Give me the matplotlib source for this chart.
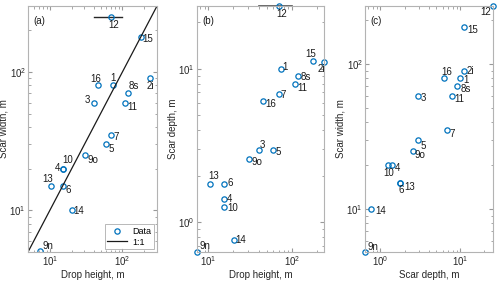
import matplotlib
matplotlib.use("Agg")
import matplotlib.pyplot as plt
import numpy as np

plt.rcParams['font.family'] = ['Liberation Sans', 'DejaVu Sans']
plt.rcParams['mathtext.fontset'] = 'custom'
plt.rcParams['mathtext.rm'] = 'Liberation Sans'
plt.rcParams['mathtext.it'] = 'Liberation Sans'

labels = ['1', '2i', '3', '4', '5', '6', '7', '8s', '9n', '9o', '10', '11', '12', '13', '14', '15', '16']
drop_height = [75, 244, 40.5, 15.3, 59.5, 15.3, 69.5, 118, 7.3, 30.7, 15.3, 110, 70, 10.4, 20.3, 178, 45.5]
scar_width = [80, 90, 60, 20, 30, 15, 35, 70, 5.05, 25, 20, 60, 251, 15, 10, 180, 80]
scar_depth = [10, 11.1, 2.94, 1.41, 2.97, 1.78, 6.8, 9.0, 0.64, 2.58, 1.25, 7.9, 25.6, 1.78, 0.77, 11.2, 6.2]
err12_drop = [41, 100]
one_to_one = [5, 300]

blue = '#0072BD'
fs = 7

# label offsets (pixels, label centre relative to point; y positive = down)
off_a = {'12': (3, 8), '15': (7, 2), '16': (-2, -6), '1': (0, -7), '2i': (0, 8),
         '8s': (6, -7), '3': (-7, -3), '11': (7, 4), '7': (5, 2), '5': (5, 5),
         '9o': (8, 5), '4': (-6, -1), '10': (4, -9), '13': (-3, -7), '6': (5, 4),
         '14': (7, 1), '9n': (8, -5)}
off_b = {'12': (3, 8), '15': (-2, -7), '2i': (-3, 7), '1': (4, -2), '8s': (8, 1),
         '11': (7, 4), '7': (5, 1), '16': (8, 3), '3': (3, -5), '5': (5, 2),
         '9o': (8, 3), '13': (4, -8), '6': (6, -1), '4': (6, 0), '10': (9, 1),
         '14': (7, 0), '9n': (8, -6)}
off_c = {'12': (-7, 6), '15': (8, 3), '2i': (6, 0), '16': (3, -6), '1': (6, 2),
         '8s': (9, 3), '3': (5, 2), '11': (7, 3), '7': (5, 4), '5': (5, 6),
         '9o': (7, 4), '10': (0, 8), '4': (5, 3), '13': (9, 4), '6': (1, 7),
         '14': (9, 2), '9n': (8, -5)}

fig = plt.figure(figsize=(5.0, 2.83), dpi=100)
W, H = 500, 283
boxes = [(28, 157), (197, 324), (365, 493)]
top_px, bot_px = 6, 252
axes = []
for (l, r) in boxes:
    ax = fig.add_axes([l / W, 1 - bot_px / H, (r - l) / W, (bot_px - top_px) / H])
    axes.append(ax)

def style(ax):
    ax.set_xscale('log')
    ax.set_yscale('log')
    ax.tick_params(which='both', direction='in', top=True, right=True,
                   labelsize=fs, colors='0.15', length=3, pad=1.5)
    ax.tick_params(which='minor', length=1.8)
    ax.tick_params(which='both', color='0.6')
    for s in ax.spines.values():
        s.set_color('0.7')
        s.set_linewidth(0.8)

def annotate(ax, xs, ys, offs):
    for lab, x, y in zip(labels, xs, ys):
        dx, dy = offs[lab]
        ax.annotate(lab, (x, y), xytext=(dx, -dy), textcoords='offset pixels',
                    ha='center', va='center', fontsize=fs, color='0.1')

def labels_xy(ax, xl, yl):
    ax.set_xlabel(xl, fontsize=fs, color='0.15', labelpad=1.5)
    ax.set_ylabel(yl, fontsize=fs, color='0.15', labelpad=0.5)

i12 = labels.index('12')

# (a)
ax = axes[0]
style(ax)
ax.plot(err12_drop, [scar_width[i12]] * 2, color='0.15', lw=1)
ax.plot(drop_height, scar_width, 'o', mfc='none', mec=blue, ms=3.8, mew=0.9, label='Data')
ax.plot(one_to_one, one_to_one, color='0.1', lw=0.9, label='1:1')
ax.set_xlim(one_to_one)
ax.set_ylim(one_to_one)
annotate(ax, drop_height, scar_width, off_a)
labels_xy(ax, 'Drop height, m', 'Scar width, m')
leg = ax.legend(loc='lower right', fontsize=fs - 0.5, frameon=True, fancybox=False,
                handlelength=2.2, borderpad=0.3, labelspacing=0.2, handletextpad=0.6,
                borderaxespad=0.3)
leg.get_frame().set_edgecolor('0.6')
leg.get_frame().set_linewidth(0.6)
ax.text(0.04, 0.96, '(a)', transform=ax.transAxes, ha='left', va='top', fontsize=fs, color='0.1')

# (b)
ax = axes[1]
style(ax)
ax.plot(err12_drop, [scar_depth[i12]] * 2, color='0.3', lw=1.2, clip_on=False)
ax.plot(drop_height, scar_depth, 'o', mfc='none', mec=blue, ms=3.8, mew=0.9, clip_on=False)
ax.set_xlim(min(drop_height), max(drop_height))
ax.set_ylim(min(scar_depth), max(scar_depth))
annotate(ax, drop_height, scar_depth, off_b)
labels_xy(ax, 'Drop height, m', 'Scar depth, m')
ax.text(0.04, 0.96, '(b)', transform=ax.transAxes, ha='left', va='top', fontsize=fs, color='0.1')

# (c)
ax = axes[2]
style(ax)
ax.plot(scar_depth, scar_width, 'o', mfc='none', mec=blue, ms=3.8, mew=0.9, clip_on=False)
ax.set_xlim(min(scar_depth), max(scar_depth))
ax.set_ylim(min(scar_width), max(scar_width))
annotate(ax, scar_depth, scar_width, off_c)
labels_xy(ax, 'Scar depth, m', 'Scar width, m')
ax.text(0.04, 0.96, '(c)', transform=ax.transAxes, ha='left', va='top', fontsize=fs, color='0.1')

fig.savefig('out.png', dpi=100)
